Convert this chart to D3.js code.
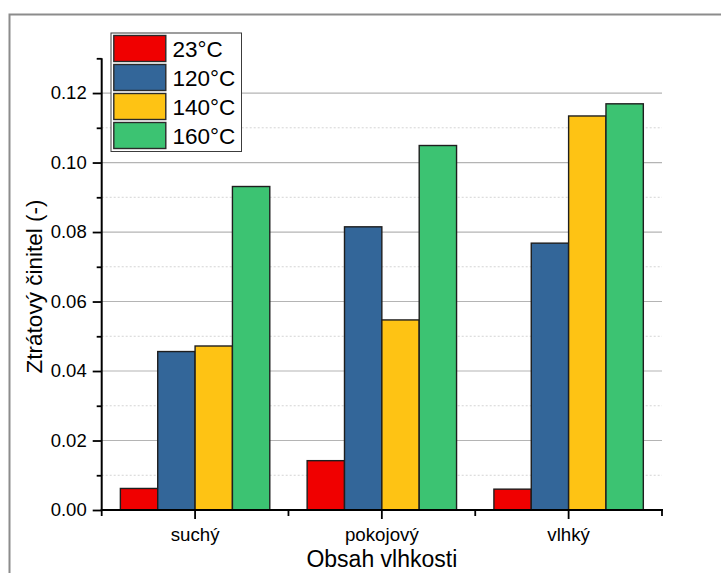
<!DOCTYPE html>
<html><head><meta charset="utf-8">
<script src="https://cdn.jsdelivr.net/npm/d3@7"></script>
<style>
html,body{margin:0;padding:0;background:#fff;}
svg{display:block;font-family:"Liberation Sans",Arial,sans-serif;}
</style></head>
<body>
<svg id="c" width="721" height="573"></svg>
<script>
const categories = ["suchý", "pokojový", "vlhký"];
const seriesNames = ["23°C", "120°C", "140°C", "160°C"];
const s23 = [0.0062, 0.0142, 0.0060];
const s120 = [0.0456, 0.0815, 0.0768];
const s140 = [0.0472, 0.0547, 0.1134];
const s160 = [0.0931, 0.1049, 0.1169];
const seriesColors = ["#F00000", "#336699", "#FEC314", "#3CC372"];
const yMajorTicks = [0, 0.02, 0.04, 0.06, 0.08, 0.10, 0.12];
const yMinorTicks = [0.01, 0.03, 0.05, 0.07, 0.09, 0.11, 0.13];
const xLabel = "Obsah vlhkosti";
const yLabel = "Ztrátový činitel (-)";

const seriesValues = [s23, s120, s140, s160];
const svg = d3.select("#c");
const L = 101.7, R = 662, T = 58.3, B = 510;

// frame
svg.append("path").attr("d", `M9.5,573 V14.5 H721`).attr("fill","none").attr("stroke","#8c8c8c").attr("stroke-width",2);

const x0 = d3.scaleBand().domain(categories).range([L, R]).padding(0);
const x1 = d3.scaleBand().domain(seriesNames).range([x0.bandwidth()*0.1, x0.bandwidth()*0.9]).padding(0);
const y = d3.scaleLinear().domain([0, 0.13]).range([B, T]);

// grid
const g = svg.append("g");
g.selectAll("line.minor").data(yMinorTicks.filter(v=>v<0.13)).join("line")
  .attr("x1", L).attr("x2", R).attr("y1", d=>y(d)).attr("y2", d=>y(d))
  .attr("stroke","#d4d4d4").attr("stroke-width",1).attr("stroke-dasharray","2,2");
g.selectAll("line.major").data(yMajorTicks.filter(v=>v>0)).join("line")
  .attr("x1", L).attr("x2", R).attr("y1", d=>y(d)).attr("y2", d=>y(d))
  .attr("stroke","#b4b4b4").attr("stroke-width",1.2);

// bars
const groups = svg.append("g").selectAll("g").data(categories).join("g")
  .attr("transform", d=>`translate(${x0(d)},0)`);
groups.selectAll("rect").data((c,i)=>seriesNames.map((s,j)=>({s, j, v: seriesValues[j][i]}))).join("rect")
  .attr("x", d=>x1(d.s)).attr("width", x1.bandwidth())
  .attr("y", d=>y(d.v)).attr("height", d=>B - y(d.v))
  .attr("fill", d=>seriesColors[d.j]).attr("stroke","#1e1e1e").attr("stroke-width",1.4);

// y axis
const yAxis = svg.append("g").attr("transform",`translate(${L},0)`)
  .call(d3.axisLeft(y).tickValues(yMajorTicks).tickFormat(d3.format(".2f")).tickSize(9).tickPadding(6));
yAxis.select(".domain").remove();
yAxis.selectAll(".tick line").attr("stroke","#000").attr("stroke-width",1.8);
yAxis.selectAll(".tick text").attr("font-size",18.5).attr("fill","#000").attr("font-family","Liberation Sans, Arial, sans-serif");
const yMinor = svg.append("g").attr("transform",`translate(${L},0)`)
  .call(d3.axisLeft(y).tickValues(yMinorTicks).tickFormat("").tickSize(5));
yMinor.select(".domain").remove();
yMinor.selectAll(".tick line").attr("stroke","#000").attr("stroke-width",1.8);
svg.append("line").attr("x1",L).attr("x2",L).attr("y1",T).attr("y2",B+1).attr("stroke","#000").attr("stroke-width",2);

// x axis
const xAxis = svg.append("g").attr("transform",`translate(0,${B})`)
  .call(d3.axisBottom(x0).tickSize(9).tickPadding(9));
xAxis.select(".domain").remove();
xAxis.selectAll(".tick line").attr("stroke","#000").attr("stroke-width",1.8);
xAxis.selectAll(".tick text").attr("font-size",18.7).attr("fill","#000").attr("font-family","Liberation Sans, Arial, sans-serif");
const boundaries = categories.map(c=>x0(c)).concat([R]);
svg.append("g").selectAll("line").data(boundaries).join("line")
  .attr("x1",d=>d).attr("x2",d=>d).attr("y1",B).attr("y2",B+6)
  .attr("stroke","#000").attr("stroke-width",1.8);
svg.append("line").attr("x1",L-1).attr("x2",R+1).attr("y1",B).attr("y2",B).attr("stroke","#000").attr("stroke-width",2);

// axis titles
svg.append("text").attr("x",(L+R)/2).attr("y",567).attr("text-anchor","middle")
  .attr("font-size",23).attr("fill","#000").text(xLabel);
svg.append("text").attr("transform",`translate(42,${286.5}) rotate(-90)`).attr("text-anchor","middle")
  .attr("font-size",22.5).attr("fill","#000").text(yLabel);

// legend
const lg = svg.append("g");
lg.append("rect").attr("x",111).attr("y",33).attr("width",130.5).attr("height",118.5)
  .attr("fill","#fff").attr("stroke","#3c3c3c").attr("stroke-width",1);
const items = lg.selectAll("g").data(seriesNames).join("g")
  .attr("transform",(d,i)=>`translate(0,${35.5 + i*29})`);
items.append("rect").attr("x",113.8).attr("y",0).attr("width",52).attr("height",26)
  .attr("fill",(d,i)=>seriesColors[i]).attr("stroke","#2a2a2a").attr("stroke-width",1.4);
items.append("text").attr("x",172.5).attr("y",21.5).attr("font-size",22.5).attr("fill","#000").text(d=>d);
</script>
</body></html>
